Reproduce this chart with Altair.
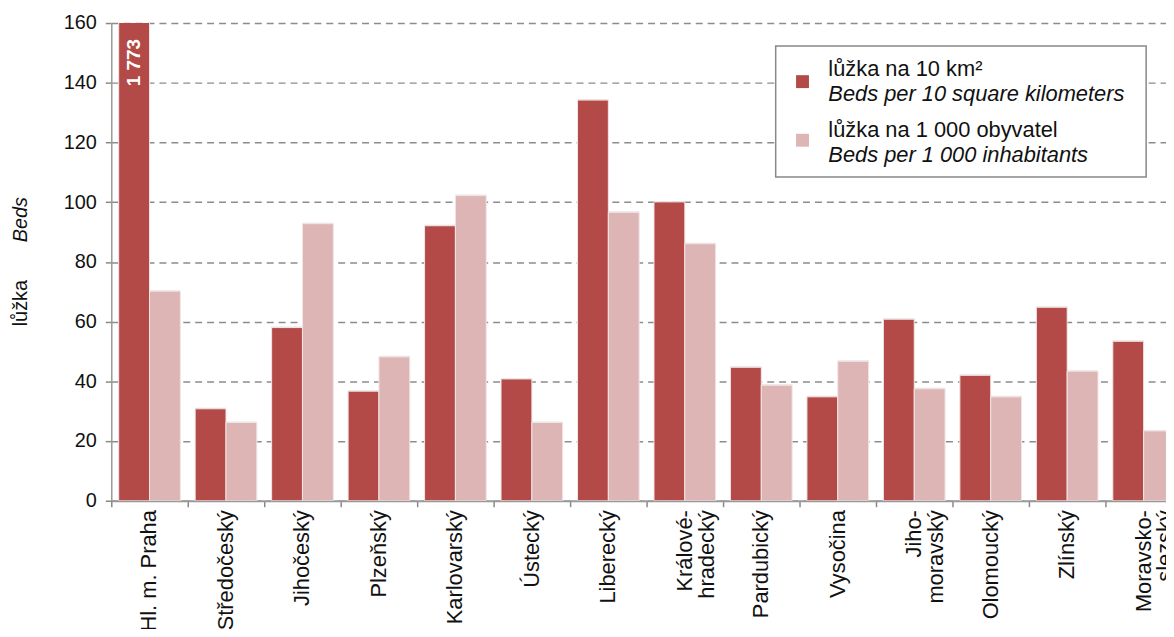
import altair as alt
import pandas as pd

regions = ["Hl. m. Praha", "Středočeský", "Jihočeský", "Plzeňský", "Karlovarský",
           "Ústecký", "Liberecký", "Králové-|hradecký", "Pardubický", "Vysočina",
           "Jiho-|moravský", "Olomoucký", "Zlínský", "Moravsko-|slezský"]
series = ["lůžka na 10 km²", "lůžka na 1 000 obyvatel"]
series_en = ["Beds per 10 square kilometers", "Beds per 1 000 inhabitants"]
beds_per_10km2 = [1773, 30.8, 58.0, 36.7, 92.1, 40.8, 134.2, 100.1, 44.7, 34.8, 60.8, 42.0, 64.8, 53.4]
beds_per_1000 = [70.2, 26.2, 92.8, 48.2, 102.2, 26.2, 96.6, 86.1, 38.7, 46.7, 37.5, 34.8, 43.4, 23.4]
colors = ["#B34A48", "#DEB5B5"]
y_ticks = [0, 20, 40, 60, 80, 100, 120, 140, 160]

rows = []
for i, r in enumerate(regions):
    rows.append({"region": r, "series": series[0], "value": beds_per_10km2[i]})
    rows.append({"region": r, "series": series[1], "value": beds_per_1000[i]})
df = pd.DataFrame(rows)

FONT = "Liberation Sans"
W, H = 1062, 481

x_enc = alt.X("region:N", sort=regions,
              scale=alt.Scale(range=[0, 1078], paddingInner=0, paddingOuter=0),
              axis=alt.Axis(title=None, labelAngle=270, labelAlign="right", labelBaseline="middle",
                            labelExpr="split(datum.label, '|')", labelFontSize=22, labelFont=FONT,
                            labelColor="#111111", labelPadding=3, labelLineHeight=22,
                            bandPosition=0, tickSize=6, tickColor="#888888", tickWidth=1.5,
                            domainColor="#999999", domainWidth=2, grid=False))
xo_enc = alt.XOffset("series:N", sort=series, scale=alt.Scale(paddingOuter=0.24, paddingInner=0))
y_enc = alt.Y("value:Q", scale=alt.Scale(domain=[0, 160], nice=False),
              axis=alt.Axis(title=None, values=y_ticks, labelFontSize=20, labelFont=FONT,
                            labelColor="#111111", labelPadding=9, tickSize=6, tickColor="#888888",
                            tickWidth=1.5, domainColor="#999999", domainWidth=1.5,
                            grid=True, gridColor="#8c8c8c", gridDash=[7, 5], gridWidth=1.5))

shadow = alt.Chart(df).mark_bar(clip=True, color="#cfcfcf", opacity=0.55, xOffset=3, yOffset=-1).encode(
    x=x_enc, xOffset=xo_enc, y=y_enc,
)

bars = alt.Chart(df).mark_bar(clip=True, stroke="#f3e6e6", strokeWidth=1).encode(
    x=x_enc, xOffset=xo_enc, y=y_enc,
    color=alt.Color("series:N", scale=alt.Scale(domain=series, range=colors), legend=None),
)

top_label = alt.Chart(pd.DataFrame([{"region": regions[0], "series": series[0], "label": "1 773"}])).mark_text(
    angle=270, align="right", baseline="middle", color="white", fontWeight="bold", fontSize=19, font=FONT
).encode(x=alt.X("region:N", sort=regions), xOffset=alt.XOffset("series:N", sort=series),
         y=alt.value(16), text="label:N")

one = alt.Data(values=[{}])
ytitle1 = alt.Chart(one).mark_text(angle=270, fontSize=20, font=FONT, color="#111111", baseline="middle").encode(
    x=alt.value(-91), y=alt.value(282), text=alt.value("lůžka"))
ytitle2 = alt.Chart(one).mark_text(angle=270, fontSize=20, font=FONT, fontStyle="italic", color="#111111",
                                   baseline="middle").encode(
    x=alt.value(-91), y=alt.value(198), text=alt.value("Beds"))

legend_box = alt.Chart(one).mark_rect(fill="white", stroke="#888888", strokeWidth=1.5).encode(
    x=alt.value(669), x2=alt.value(1042), y=alt.value(23), y2=alt.value(155))
sq1 = alt.Chart(one).mark_square(size=169, color=colors[0], opacity=1).encode(
    x=alt.value(696), y=alt.value(59))
sq2 = alt.Chart(one).mark_square(size=169, color=colors[1], opacity=1).encode(
    x=alt.value(696), y=alt.value(118))
legend_texts = []
for txt, yy, style in [(series[0], 46, "normal"), (series_en[0], 71, "italic"),
                       (series[1], 108, "normal"), (series_en[1], 133, "italic")]:
    legend_texts.append(alt.Chart(one).mark_text(align="left", baseline="middle", fontSize=22, font=FONT,
                                                 fontStyle=style, color="#111111").encode(
        x=alt.value(722), y=alt.value(yy), text=alt.value(txt)))

chart = alt.layer(shadow, bars, top_label, ytitle1, ytitle2, legend_box, sq1, sq2, *legend_texts).properties(
    width=W, height=H,
    autosize=alt.AutoSizeParams(type="none"),
    padding={"left": 104, "top": 13, "right": 0, "bottom": 127},
).configure_view(stroke=None)

chart.save("out.html", embed_options={"renderer": "svg", "actions": False})

# keep the page from showing scrollbars (chart is intentionally cut at the window edges)
with open("out.html", encoding="utf-8") as f:
    html = f.read()
html = html.replace("</head>", "<style>html, body { overflow: hidden; }</style>\n</head>", 1)
with open("out.html", "w", encoding="utf-8") as f:
    f.write(html)
